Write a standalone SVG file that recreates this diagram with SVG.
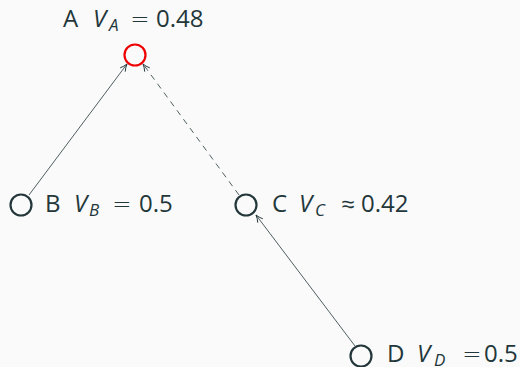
<svg xmlns="http://www.w3.org/2000/svg" width="520" height="367" viewBox="0 0 520 367">
<defs>
<style>
.lbl{font-family:"Open Sans","Liberation Sans",sans-serif;font-size:24px;fill:#23373b}
.it{font-style:italic}
.sub{font-size:17px;font-style:italic}
.op{font-family:"DejaVu Sans",sans-serif;font-weight:200;font-size:23px}
.node{fill:none;stroke:#23373b;stroke-width:2.2}
.edge{fill:none;stroke:#23373b;stroke-width:0.8}
</style>
<marker id="ah" viewBox="0 0 10 10" refX="9" refY="5" markerWidth="9" markerHeight="9" markerUnits="userSpaceOnUse" orient="auto">
<path d="M1,1.5 Q5,4 9,5 Q5,6 1,8.5" fill="none" stroke="#23373b" stroke-width="1"/>
</marker>
</defs>
<rect width="520" height="367" fill="#fafafa"/>
<g id="connectors">
<line class="edge" x1="29" y1="195" x2="127" y2="64" marker-end="url(#ah)"/>
<line class="edge" x1="239" y1="195" x2="143" y2="64" stroke-dasharray="6,5" marker-end="url(#ah)"/>
<line class="edge" x1="355" y1="346" x2="256" y2="215" marker-end="url(#ah)"/>
</g>
<g id="A">
<circle cx="135" cy="55" r="10.5" fill="none" stroke="#ee0000" stroke-width="2.2"/>
<text class="lbl" y="27"><tspan x="63">A</tspan><tspan class="it" x="93">V</tspan><tspan class="sub" x="109" y="31">A</tspan><tspan class="op" x="140" y="27" text-anchor="middle">=</tspan><tspan x="156">0.48</tspan></text>
</g>
<g id="B">
<circle class="node" cx="21" cy="205" r="10.5"/>
<text class="lbl" y="212"><tspan x="45">B</tspan><tspan class="it" x="74">V</tspan><tspan class="sub" x="89" y="216">B</tspan><tspan class="op" x="122" y="212" text-anchor="middle">=</tspan><tspan x="139">0.5</tspan></text>
</g>
<g id="C">
<circle class="node" cx="246" cy="205" r="10.5"/>
<text class="lbl" y="212"><tspan x="272">C</tspan><tspan class="it" x="299">V</tspan><tspan class="sub" x="315" y="216">C</tspan><tspan class="op" x="348" y="212" text-anchor="middle">≈</tspan><tspan x="361">0.42</tspan></text>
</g>
<g id="D">
<circle class="node" cx="361" cy="356" r="10.5"/>
<text class="lbl" y="362"><tspan x="387">D</tspan><tspan class="it" x="417">V</tspan><tspan class="sub" x="434" y="366">D</tspan><tspan class="op" x="472" y="362" text-anchor="middle">=</tspan><tspan x="484">0.5</tspan></text>
</g>
</svg>
